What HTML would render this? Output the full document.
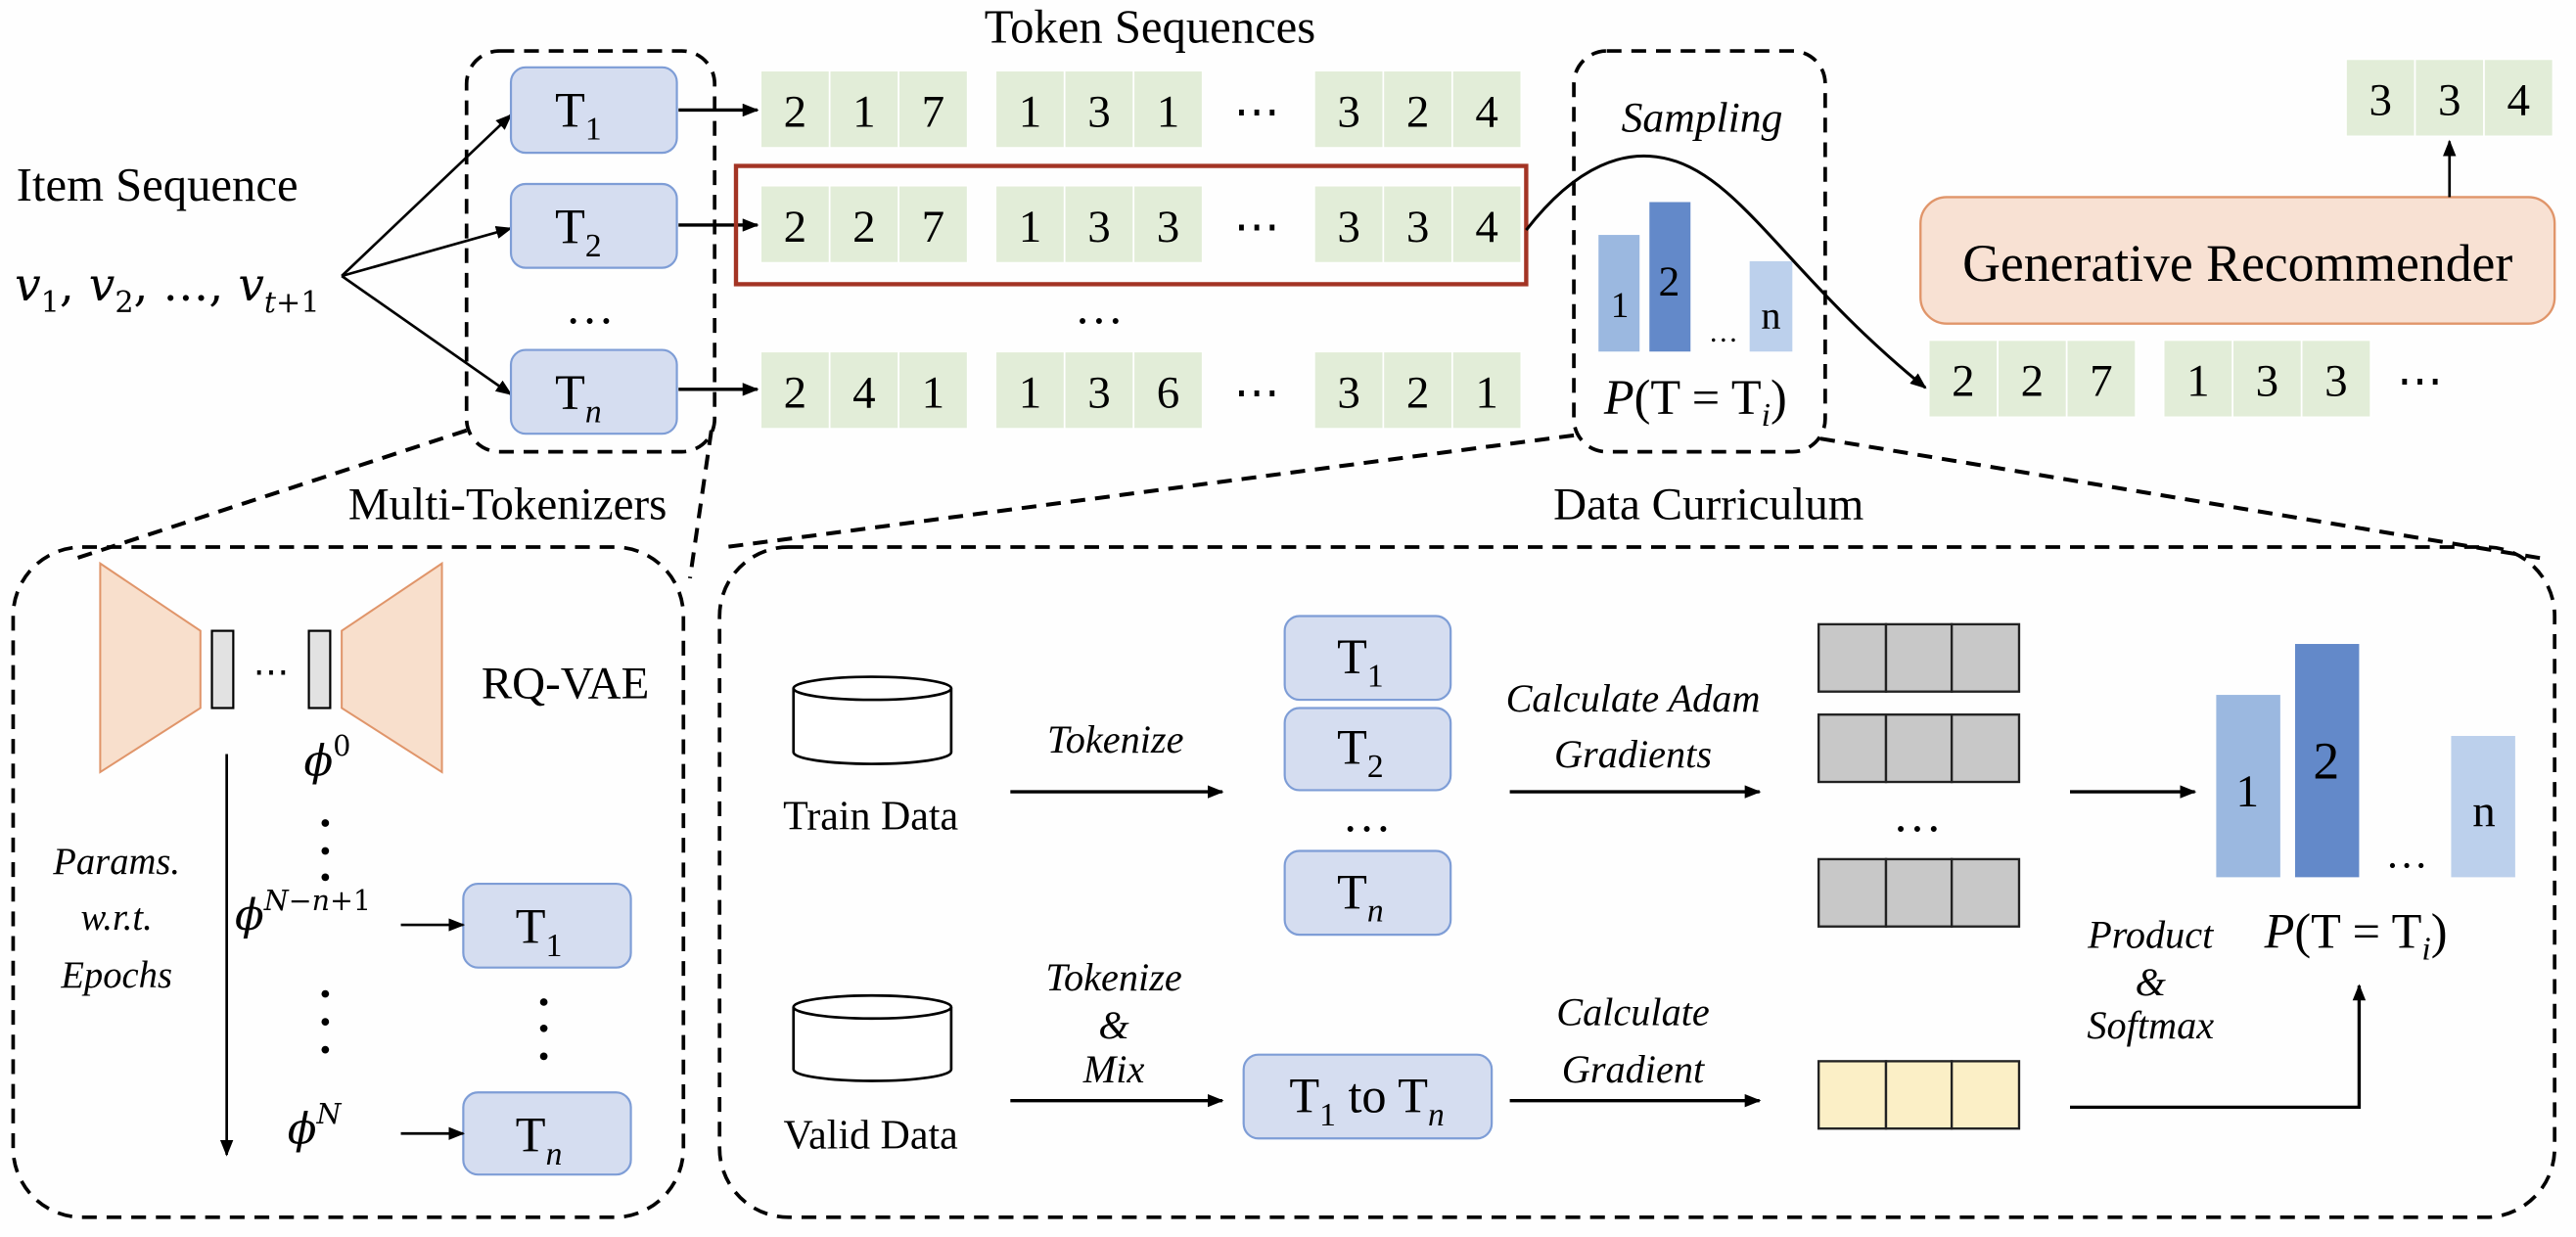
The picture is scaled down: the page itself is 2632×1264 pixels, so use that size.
<!DOCTYPE html>
<html><head><meta charset="utf-8"><style>
html,body{margin:0;padding:0;background:#fff;}
svg{display:block;font-family:"Liberation Serif","Times New Roman","DejaVu Serif",serif}
svg text{font-family:"Liberation Serif","Times New Roman","DejaVu Serif",serif;fill:#000}
svg .it{font-style:italic}
svg .m, svg .m tspan{font-family:"DejaVu Serif","Liberation Serif",serif;font-style:italic}
svg .m .up{font-style:normal}
</style></head><body>
<svg width="2632" height="1264" viewBox="0 0 1568 753" xmlns="http://www.w3.org/2000/svg" font-family="Liberation Serif, serif">
<defs>
<marker id="ah" markerWidth="10" markerHeight="8" refX="9" refY="4" orient="auto" markerUnits="userSpaceOnUse"><path d="M0,0 L10,4 L0,8 Z" fill="#000"/></marker>
</defs>
<rect width="1568" height="753" fill="#fefefe"/>

<text x="700" y="26" font-size="29" text-anchor="middle">Token Sequences</text>
<text x="10" y="122" font-size="29">Item Sequence</text>
<text x="9" y="183" font-size="28" class="m">v<tspan class="up" font-size="18" dy="7">1</tspan><tspan class="up" dy="-7">, </tspan><tspan>v</tspan><tspan class="up" font-size="18" dy="7">2</tspan><tspan class="up" dy="-7">, …, </tspan><tspan>v</tspan><tspan font-size="18" dy="7">t</tspan><tspan class="up" font-size="18">+1</tspan></text>

<g stroke="#000" stroke-width="1.6" fill="none" marker-end="url(#ah)">
<line x1="208" y1="168" x2="311" y2="70"/>
<line x1="208" y1="168" x2="311" y2="139"/>
<line x1="208" y1="168" x2="311" y2="240"/>
</g>

<rect x="284" y="31" width="151" height="244" rx="20" fill="none" stroke="#000" stroke-width="2.2" stroke-dasharray="9,6"/>
<g fill="#d5ddf0" stroke="#7e9dd6" stroke-width="1.3">
<rect x="311" y="41" width="101" height="52" rx="9"/>
<rect x="311" y="112" width="101" height="51" rx="9"/>
<rect x="311" y="213" width="101" height="51" rx="9"/>
</g>
<text x="352" y="77" font-size="30" text-anchor="middle">T<tspan font-size="20" dy="8">1</tspan></text>
<text x="352" y="148" font-size="30" text-anchor="middle">T<tspan font-size="20" dy="8">2</tspan></text>
<text x="352" y="249" font-size="30" text-anchor="middle">T<tspan font-size="20" dy="8" class="it">n</tspan></text>
<text x="359" y="197" font-size="30" text-anchor="middle">…</text>

<g stroke="#000" stroke-width="2" marker-end="url(#ah)">
<line x1="413" y1="67" x2="461" y2="67"/>
<line x1="413" y1="137" x2="461" y2="137"/>
<line x1="413" y1="237" x2="461" y2="237"/>
</g>

<g fill="#e2edd8" stroke="#fff" stroke-width="1">
<rect x="463" y="43" width="42" height="47"/><rect x="505" y="43" width="42" height="47"/><rect x="547" y="43" width="42" height="47"/>
<rect x="606" y="43" width="42" height="47"/><rect x="648" y="43" width="42" height="47"/><rect x="690" y="43" width="42" height="47"/>
<rect x="800" y="43" width="42" height="47"/><rect x="842" y="43" width="42" height="47"/><rect x="884" y="43" width="42" height="47"/>
<rect x="463" y="113" width="42" height="47"/><rect x="505" y="113" width="42" height="47"/><rect x="547" y="113" width="42" height="47"/>
<rect x="606" y="113" width="42" height="47"/><rect x="648" y="113" width="42" height="47"/><rect x="690" y="113" width="42" height="47"/>
<rect x="800" y="113" width="42" height="47"/><rect x="842" y="113" width="42" height="47"/><rect x="884" y="113" width="42" height="47"/>
<rect x="463" y="214" width="42" height="47"/><rect x="505" y="214" width="42" height="47"/><rect x="547" y="214" width="42" height="47"/>
<rect x="606" y="214" width="42" height="47"/><rect x="648" y="214" width="42" height="47"/><rect x="690" y="214" width="42" height="47"/>
<rect x="800" y="214" width="42" height="47"/><rect x="842" y="214" width="42" height="47"/><rect x="884" y="214" width="42" height="47"/>
<rect x="1174" y="207" width="42" height="47"/><rect x="1216" y="207" width="42" height="47"/><rect x="1258" y="207" width="42" height="47"/>
<rect x="1317" y="207" width="42" height="47"/><rect x="1359" y="207" width="42" height="47"/><rect x="1401" y="207" width="42" height="47"/>
<rect x="1428" y="36" width="42" height="47"/><rect x="1470" y="36" width="42" height="47"/><rect x="1512" y="36" width="42" height="47"/>
</g>
<g font-size="28" text-anchor="middle">
<text y="77"><tspan x="484">2</tspan><tspan x="526">1</tspan><tspan x="568">7</tspan><tspan x="627">1</tspan><tspan x="669">3</tspan><tspan x="711">1</tspan><tspan x="765">⋯</tspan><tspan x="821">3</tspan><tspan x="863">2</tspan><tspan x="905">4</tspan></text>
<text y="147"><tspan x="484">2</tspan><tspan x="526">2</tspan><tspan x="568">7</tspan><tspan x="627">1</tspan><tspan x="669">3</tspan><tspan x="711">3</tspan><tspan x="765">⋯</tspan><tspan x="821">3</tspan><tspan x="863">3</tspan><tspan x="905">4</tspan></text>
<text y="248"><tspan x="484">2</tspan><tspan x="526">4</tspan><tspan x="568">1</tspan><tspan x="627">1</tspan><tspan x="669">3</tspan><tspan x="711">6</tspan><tspan x="765">⋯</tspan><tspan x="821">3</tspan><tspan x="863">2</tspan><tspan x="905">1</tspan></text>
<text y="241"><tspan x="1195">2</tspan><tspan x="1237">2</tspan><tspan x="1279">7</tspan><tspan x="1338">1</tspan><tspan x="1380">3</tspan><tspan x="1422">3</tspan><tspan x="1473">⋯</tspan></text>
<text y="70"><tspan x="1449">3</tspan><tspan x="1491">3</tspan><tspan x="1533">4</tspan></text>
</g>
<text x="669" y="197" font-size="30" text-anchor="middle">…</text>

<rect x="448" y="101" width="481" height="72" fill="none" stroke="#a33424" stroke-width="2.6"/>

<rect x="958" y="31" width="153" height="244" rx="20" fill="none" stroke="#000" stroke-width="2.2" stroke-dasharray="9,6"/>
<text x="1036" y="80" font-size="26" class="it" text-anchor="middle">Sampling</text>
<rect x="973" y="143" width="25" height="71" fill="#9bb8e0"/>
<rect x="1004" y="123" width="25" height="91" fill="#6389c9"/>
<rect x="1065" y="159" width="26" height="55" fill="#bcd0ec"/>
<text x="986" y="193" font-size="22" text-anchor="middle">1</text>
<text x="1016" y="180" font-size="26" text-anchor="middle">2</text>
<text x="1049" y="208" font-size="18" text-anchor="middle">…</text>
<text x="1078" y="200" font-size="24" text-anchor="middle">n</text>
<text x="1032" y="252" font-size="30" text-anchor="middle"><tspan class="it">P</tspan>(T = T<tspan font-size="20" dy="7" class="it">i</tspan><tspan dy="-7">)</tspan></text>

<path d="M929,140 C960,100 990,90 1016,97 C1060,108 1090,170 1172,236" fill="none" stroke="#000" stroke-width="1.8" marker-end="url(#ah)"/>

<rect x="1169" y="120" width="386" height="77" rx="16" fill="#f8e1d3" stroke="#e0956a" stroke-width="1.4"/>
<text x="1362" y="171" font-size="32" text-anchor="middle">Generative Recommender</text>
<line x1="1491" y1="120" x2="1491" y2="86" stroke="#000" stroke-width="1.6" marker-end="url(#ah)"/>

<g stroke="#000" stroke-width="2.4" stroke-dasharray="9,6" fill="none">
<line x1="284" y1="262" x2="46" y2="340"/>
<line x1="433" y1="262" x2="420" y2="352"/>
<line x1="958" y1="265" x2="442" y2="333"/>
<line x1="1108" y1="267" x2="1548" y2="340"/>
</g>
<text x="309" y="316" font-size="28" text-anchor="middle">Multi-Tokenizers</text>
<text x="1040" y="316" font-size="28" text-anchor="middle">Data Curriculum</text>

<rect x="8" y="333" width="408" height="408" rx="42" fill="none" stroke="#000" stroke-width="2.2" stroke-dasharray="9,6"/>
<rect x="438" y="333" width="1117" height="408" rx="42" fill="none" stroke="#000" stroke-width="2.2" stroke-dasharray="9,6"/>

<polygon points="61,343 122,384 122,431 61,470" fill="#f8dfcc" stroke="#e0956a" stroke-width="1.2"/>
<polygon points="269,343 208,384 208,431 269,470" fill="#f8dfcc" stroke="#e0956a" stroke-width="1.2"/>
<rect x="129" y="384" width="13" height="47" fill="#e2e2e2" stroke="#000" stroke-width="1.3"/>
<rect x="188" y="384" width="13" height="47" fill="#e2e2e2" stroke="#000" stroke-width="1.3"/>
<text x="165" y="416" font-size="22" text-anchor="middle">⋯</text>
<text x="293" y="425" font-size="28">RQ-VAE</text>
<text x="185" y="472" font-size="26" class="m">ϕ<tspan class="up" font-size="17" dy="-12">0</tspan></text>
<g fill="#000">
<circle cx="198" cy="501" r="2.3"/><circle cx="198" cy="518" r="2.3"/><circle cx="198" cy="534" r="2.3"/>
<circle cx="198" cy="605" r="2.3"/><circle cx="198" cy="622" r="2.3"/><circle cx="198" cy="639" r="2.3"/>
<circle cx="331" cy="610" r="2.3"/><circle cx="331" cy="626" r="2.3"/><circle cx="331" cy="643" r="2.3"/>
</g>
<text x="143" y="566" font-size="26" class="m">ϕ<tspan font-size="17" dy="-12">N</tspan><tspan class="up" font-size="17">−</tspan><tspan font-size="17">n</tspan><tspan class="up" font-size="17">+1</tspan></text>
<text x="175" y="696" font-size="26" class="m">ϕ<tspan font-size="17" dy="-12">N</tspan></text>
<g fill="#d5ddf0" stroke="#7e9dd6" stroke-width="1.3">
<rect x="282" y="538" width="102" height="51" rx="9"/>
<rect x="282" y="665" width="102" height="50" rx="9"/>
</g>
<text x="328" y="574" font-size="30" text-anchor="middle">T<tspan font-size="20" dy="8">1</tspan></text>
<text x="328" y="701" font-size="30" text-anchor="middle">T<tspan font-size="20" dy="8" class="it">n</tspan></text>
<g stroke="#000" stroke-width="1.6" marker-end="url(#ah)">
<line x1="244" y1="563" x2="282" y2="563"/>
<line x1="244" y1="690" x2="282" y2="690"/>
<line x1="138" y1="459" x2="138" y2="703"/>
</g>
<g font-size="23" class="it" text-anchor="middle">
<text x="71" y="532" class="it">Params.</text>
<text x="71" y="566" class="it">w.r.t.</text>
<text x="71" y="601" class="it">Epochs</text>
</g>

<g fill="#fff" stroke="#000" stroke-width="1.6">
<path d="M483,419 L483,458 A48,7 0 0 0 579,458 L579,419"/>
<ellipse cx="531" cy="419" rx="48" ry="7"/>
<path d="M483,613 L483,651 A48,7 0 0 0 579,651 L579,613"/>
<ellipse cx="531" cy="613" rx="48" ry="7"/>
</g>
<text x="530" y="505" font-size="25" text-anchor="middle">Train Data</text>
<text x="530" y="699" font-size="25" text-anchor="middle">Valid Data</text>
<g font-size="24" text-anchor="middle">
<text class="it" x="679" y="458">Tokenize</text>
<text class="it" x="994" y="433">Calculate Adam</text>
<text class="it" x="994" y="467">Gradients</text>
<text class="it" x="678" y="603">Tokenize</text>
<text class="it" x="678" y="632">&amp;</text>
<text class="it" x="678" y="659">Mix</text>
<text class="it" x="994" y="624">Calculate</text>
<text class="it" x="994" y="659">Gradient</text>
<text class="it" x="1309" y="577">Product</text>
<text class="it" x="1309" y="606">&amp;</text>
<text class="it" x="1309" y="632">Softmax</text>
</g>
<g stroke="#000" stroke-width="2" marker-end="url(#ah)">
<line x1="615" y1="482" x2="744" y2="482"/>
<line x1="919" y1="482" x2="1071" y2="482"/>
<line x1="1260" y1="482" x2="1336" y2="482"/>
<line x1="615" y1="670" x2="744" y2="670"/>
<line x1="919" y1="670" x2="1071" y2="670"/>
</g>
<polyline points="1260,674 1436,674 1436,600" fill="none" stroke="#000" stroke-width="2" marker-end="url(#ah)"/>

<g fill="#d5ddf0" stroke="#7e9dd6" stroke-width="1.3">
<rect x="782" y="375" width="101" height="51" rx="9"/>
<rect x="782" y="431" width="101" height="50" rx="9"/>
<rect x="782" y="518" width="101" height="51" rx="9"/>
<rect x="757" y="642" width="151" height="51" rx="9"/>
</g>
<text x="828" y="410" font-size="30" text-anchor="middle">T<tspan font-size="20" dy="8">1</tspan></text>
<text x="828" y="465" font-size="30" text-anchor="middle">T<tspan font-size="20" dy="8">2</tspan></text>
<text x="832" y="506" font-size="30" text-anchor="middle">…</text>
<text x="828" y="553" font-size="30" text-anchor="middle">T<tspan font-size="20" dy="8" class="it">n</tspan></text>
<text x="832" y="677" font-size="30" text-anchor="middle">T<tspan font-size="20" dy="8">1</tspan><tspan dy="-8"> to T</tspan><tspan font-size="20" dy="8" class="it">n</tspan></text>

<g fill="#c8c8c8" stroke="#222" stroke-width="1.4">
<rect x="1107" y="380" width="41" height="41"/><rect x="1148" y="380" width="40" height="41"/><rect x="1188" y="380" width="41" height="41"/>
<rect x="1107" y="435" width="41" height="41"/><rect x="1148" y="435" width="40" height="41"/><rect x="1188" y="435" width="41" height="41"/>
<rect x="1107" y="523" width="41" height="41"/><rect x="1148" y="523" width="40" height="41"/><rect x="1188" y="523" width="41" height="41"/>
</g>
<g fill="#fbefc6" stroke="#222" stroke-width="1.4">
<rect x="1107" y="646" width="41" height="41"/><rect x="1148" y="646" width="40" height="41"/><rect x="1188" y="646" width="41" height="41"/>
</g>
<text x="1167" y="506" font-size="30" text-anchor="middle">…</text>

<rect x="1349" y="423" width="39" height="111" fill="#9bb8e0"/>
<rect x="1397" y="392" width="39" height="142" fill="#6389c9"/>
<rect x="1492" y="448" width="39" height="86" fill="#bcd0ec"/>
<text x="1368" y="491" font-size="28" text-anchor="middle">1</text>
<text x="1416" y="474" font-size="32" text-anchor="middle">2</text>
<text x="1465" y="528" font-size="26" text-anchor="middle">…</text>
<text x="1512" y="503" font-size="28" text-anchor="middle">n</text>
<text x="1434" y="577" font-size="30" text-anchor="middle"><tspan class="it">P</tspan>(T = T<tspan font-size="20" dy="7" class="it">i</tspan><tspan dy="-7">)</tspan></text>
</svg>
</body></html>
